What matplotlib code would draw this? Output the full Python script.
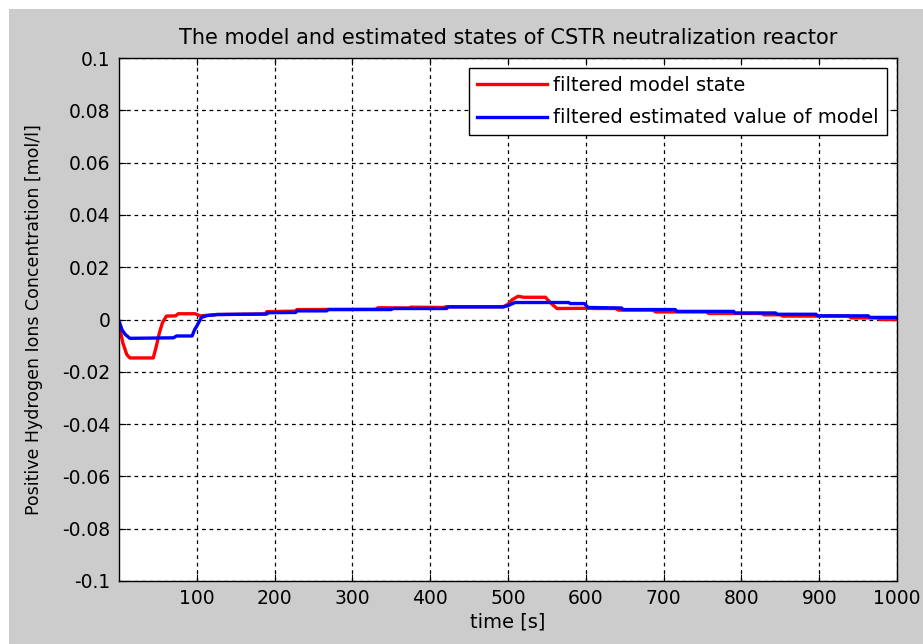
import numpy as np
import matplotlib.pyplot as plt
from matplotlib.patches import Rectangle

# Filtered model state (red)
t_model = [0, 5, 10, 14, 44, 48, 52, 56, 61, 73, 76, 98, 104, 120, 126, 188, 190,
           226, 229, 330, 333, 372, 375, 418, 420, 494, 500, 505, 513, 520, 548,
           556, 563, 605, 610, 638, 642, 686, 690, 755, 758, 826, 829, 850, 853,
           938, 941, 975, 978, 1000]
y_model = [-0.002, -0.009, -0.0134, -0.0147, -0.0147, -0.0102, -0.005, -0.0011,
           0.0013, 0.0014, 0.0022, 0.0022, 0.0014, 0.0017, 0.0019, 0.0021, 0.0030,
           0.0032, 0.0038, 0.0039, 0.0045, 0.0044, 0.0047, 0.0046, 0.0049, 0.0049,
           0.0058, 0.0075, 0.0089, 0.0085, 0.0085, 0.0060, 0.0042, 0.0043, 0.0042,
           0.0042, 0.0036, 0.0036, 0.0029, 0.0029, 0.0023, 0.0023, 0.0018, 0.0018,
           0.0013, 0.0013, 0.0006, 0.0006, 0.0000, 0.0000]

# Filtered estimated value of model (blue)
t_est = [0, 4, 8, 14, 70, 74, 94, 97, 100, 106, 113, 126, 190, 192, 227, 229,
         267, 269, 350, 352, 421, 423, 494, 500, 509, 578, 580, 598, 603, 646,
         648, 715, 717, 790, 792, 844, 846, 896, 898, 963, 965, 1000]
y_est = [-0.0006, -0.004, -0.0057, -0.0072, -0.0070, -0.0063, -0.0063, -0.004,
         -0.0025, 0.0008, 0.0015, 0.0019, 0.0021, 0.0026, 0.0027, 0.0033, 0.0033,
         0.0038, 0.0038, 0.0042, 0.0042, 0.0048, 0.0048, 0.0053, 0.0065, 0.0065,
         0.0061, 0.0061, 0.0046, 0.0044, 0.0038, 0.0038, 0.0031, 0.0031, 0.0025,
         0.0025, 0.0020, 0.0020, 0.0014, 0.0014, 0.0008, 0.0008]

x_ticks = np.arange(100, 1001, 100)
y_ticks = np.arange(-0.1, 0.1001, 0.02)
y_tick_labels = ['-0.1', '-0.08', '-0.06', '-0.04', '-0.02', '0',
                 '0.02', '0.04', '0.06', '0.08', '0.1']

plt.rcParams['font.family'] = 'DejaVu Sans'
plt.rcParams['font.size'] = 12.5

fig = plt.figure(figsize=(9.23, 6.44), dpi=100, facecolor='white')
# gray MATLAB-like figure area, white strip on top and left
fig.patches.append(Rectangle((9 / 923, 0), 1, 1 - 9 / 644, transform=fig.transFigure,
                             facecolor='#cccccc', edgecolor='none', zorder=-10))

ax = fig.add_axes([119 / 923, 1 - 581 / 644, (897 - 119) / 923, (581 - 58) / 644])
ax.set_facecolor('white')

ax.plot(t_model, y_model, color='red', lw=2.4, label='filtered model state')
ax.plot(t_est, y_est, color='blue', lw=2.4, label='filtered estimated value of model')

ax.set_xlim(0, 1000)
ax.set_ylim(-0.1, 0.1)
ax.set_xticks(x_ticks)
ax.set_yticks(y_ticks)
ax.set_yticklabels(y_tick_labels)
ax.grid(True, color='black', linestyle=(0, (3, 3)), linewidth=0.9)
ax.tick_params(direction='in', length=5, top=True, right=True, pad=6, colors='black',
               labelsize=13.5)
for sp in ax.spines.values():
    sp.set_linewidth(1)

ax.set_title('The model and estimated states of CSTR neutralization reactor', pad=10)
ax.set_xlabel('time [s]', labelpad=3, fontsize=14)
ax.set_ylabel('Positive Hydrogen Ions Concentration [mol/l]', labelpad=14)

leg = ax.legend(loc='upper right', bbox_to_anchor=(0.987, 0.981), fancybox=False,
                edgecolor='black', framealpha=1, handlelength=3.6, handletextpad=0.35,
                borderpad=0.4, labelspacing=0.7, fontsize=14, borderaxespad=0)
leg.get_frame().set_linewidth(1)

fig.savefig('out.png', dpi=100, facecolor=fig.get_facecolor())
